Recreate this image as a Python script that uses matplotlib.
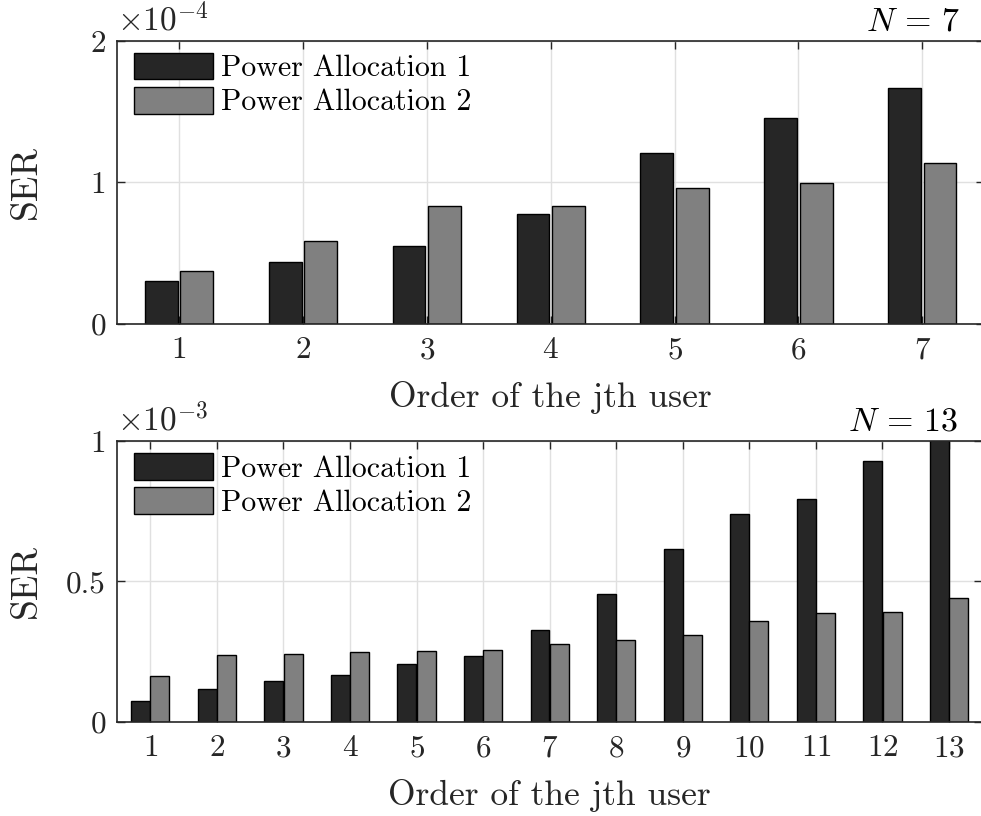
import numpy as np
import matplotlib
matplotlib.use("Agg")
import matplotlib.pyplot as plt

# SER values
users_7 = [1, 2, 3, 4, 5, 6, 7]
pa1_n7 = [0.306, 0.436, 0.553, 0.780, 1.207, 1.454, 1.667]   # x 1e-4
pa2_n7 = [0.372, 0.586, 0.830, 0.830, 0.963, 0.996, 1.140]   # x 1e-4

users_13 = list(range(1, 14))
pa1_n13 = [0.076, 0.118, 0.146, 0.167, 0.205, 0.235, 0.328,
           0.455, 0.616, 0.741, 0.794, 0.929, 1.04]           # x 1e-3
pa2_n13 = [0.164, 0.237, 0.241, 0.248, 0.251, 0.255, 0.277,
           0.293, 0.308, 0.358, 0.388, 0.393, 0.443]          # x 1e-3

labels = ["Power Allocation 1", "Power Allocation 2"]
colors = ["#262626", "#808080"]

plt.rcParams["font.family"] = ["cmr10", "DejaVu Serif"]
plt.rcParams["mathtext.fontset"] = "cm"
plt.rcParams["axes.unicode_minus"] = False
plt.rcParams["axes.formatter.use_mathtext"] = True

fig = plt.figure(figsize=(9.81, 8.16), dpi=100)
ax1 = fig.add_axes([0.1193, 0.603, 0.884, 0.347])
ax2 = fig.add_axes([0.1193, 0.1152, 0.882, 0.3444])


def draw(ax, x, a, b, width, off, ylim, yticks, ytl, expo, ntext):
    x = np.array(x)
    ax.set_axisbelow(True)
    ax.bar(x - off, a, width, color=colors[0], edgecolor="black", linewidth=1.0, label=labels[0])
    ax.bar(x + off, b, width, color=colors[1], edgecolor="black", linewidth=1.0, label=labels[1])
    ax.set_xlim(0.5, x[-1] + 0.5)
    ax.set_ylim(*ylim)
    ax.set_xticks(x)
    ax.set_yticks(yticks)
    ax.set_yticklabels(ytl)
    ax.grid(True, color="#e0e0e0", linewidth=1.0)
    ax.tick_params(direction="in", length=6, width=1.0, top=True, right=True,
                   labelsize=22.5, colors="#262626", pad=9)
    ax.tick_params(axis="y", pad=8)
    for s in ax.spines.values():
        s.set_color("#262626")
        s.set_linewidth(1.2)
    ax.set_xlabel("Order of the jth user", fontsize=25.5, color="#262626", labelpad=12)
    ax.set_ylabel("SER", fontsize=27, color="#262626")
    ax.yaxis.set_label_coords(-0.086, 0.5)
    ax.text(0.0, 1.015, expo, transform=ax.transAxes, fontsize=24, ha="left", va="bottom",
            color="#262626")
    ax.text(0.972, 1.015, ntext, transform=ax.transAxes, fontsize=24.5, ha="right", va="bottom",
            color="black")
    ax.legend(loc="upper left", bbox_to_anchor=(0.006, 1.0), frameon=False, fontsize=21.5,
              handlelength=2.65, handleheight=1.0, handletextpad=0.25, labelspacing=0.15,
              borderaxespad=0.1, borderpad=0.3)


draw(ax1, users_7, pa1_n7, pa2_n7, 0.265, 0.143, (0, 2), [0, 1, 2], ["0", "1", "2"],
     r"$\times10^{-4}$", r"$N\,=\,7$")
draw(ax2, users_13, pa1_n13, pa2_n13, 0.285, 0.145, (0, 1), [0, 0.5, 1], ["0", "0.5", "1"],
     r"$\times10^{-3}$", r"$N\,=\,13$")

fig.savefig("out.png", dpi=100)
